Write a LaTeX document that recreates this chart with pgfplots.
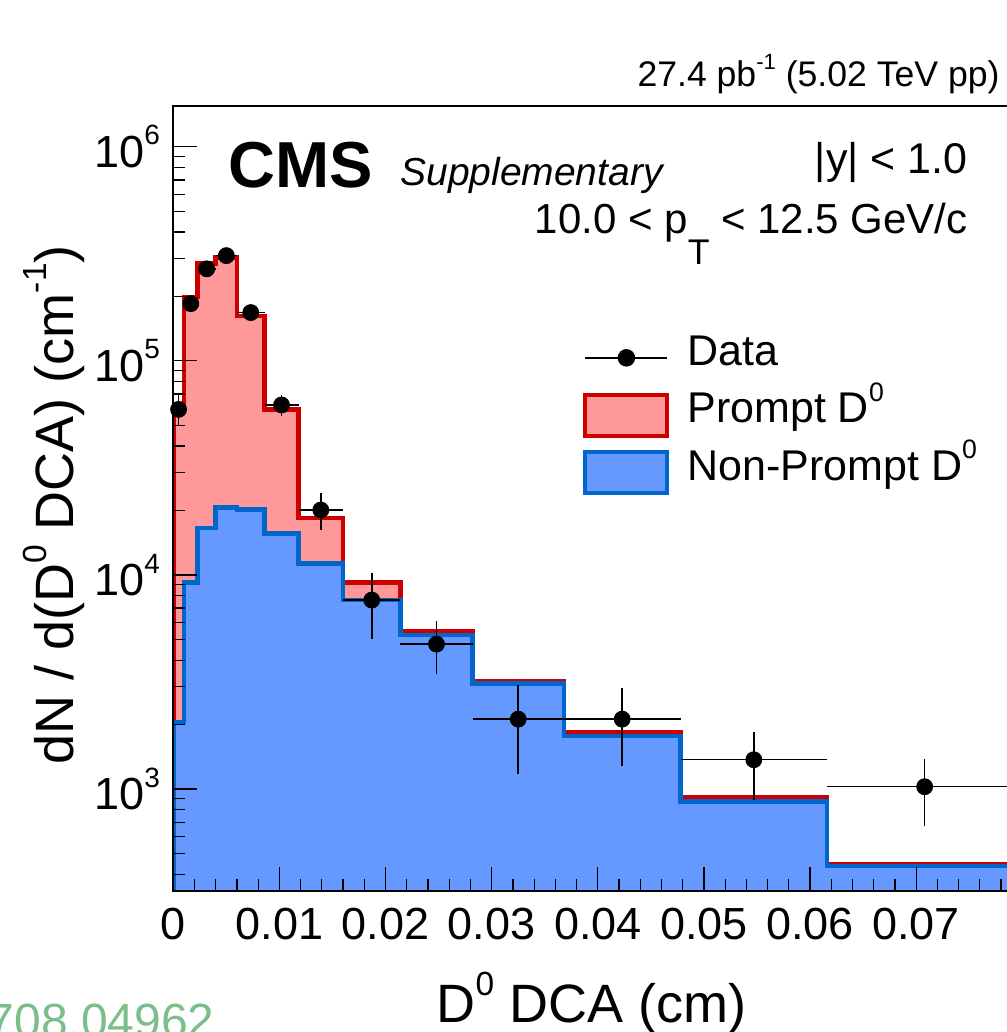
\documentclass[border=0pt]{standalone}
\usepackage{fontspec}
\setmainfont{Liberation Sans}
\usepackage{graphicx}
\usepackage{pgfplots}
\pgfplotsset{compat=1.18}

\definecolor{promptfill}{RGB}{255,153,153}
\definecolor{promptline}{RGB}{204,0,0}
\definecolor{npfill}{RGB}{102,153,255}
\definecolor{npline}{RGB}{0,102,204}
\definecolor{arxivgreen}{RGB}{122,190,140}

% ROOT-style raised / lowered indices
\newcommand\up[1]{\raisebox{0.5em}{\scalebox{0.62}{#1}}}
\newcommand\dn[1]{\raisebox{-0.75em}{\scalebox{0.85}{#1}}}

\pgfplotsset{
  datalegend/.style={legend image code/.code={%
    \draw[mark repeat=2,mark phase=2,##1] plot coordinates {(0pt,0pt)(20.5pt,0pt)(41pt,0pt)};}},
  boxlegend/.style={legend image code/.code={%
    \draw[##1] (0pt,-10.25pt) rectangle (41pt,10.25pt);}},
}

% Prompt + non-prompt (stacked total), bin low edges, last row closes the last bin
\pgfplotstableread{
x y
0 100
0 59000
0.001 199000
0.0023 285000
0.004 304000
0.006 162000
0.0086 59300
0.0118 18400
0.016 9200
0.0214 5430
0.0282 3200
0.0368 1850
0.0478 920
0.0616 447
0.08 447
0.08 100
}\prompttbl

% Non-prompt component
\pgfplotstableread{
x y
0 100
0 2060
0.001 9230
0.0023 16600
0.004 20700
0.006 20200
0.0086 15600
0.0118 11300
0.016 7620
0.0214 5250
0.0282 3110
0.0368 1770
0.0478 872
0.0616 437
0.08 437
0.08 100
}\nonprompttbl

% Data with bin half-widths and asymmetric vertical errors
\pgfplotstableread{
x y ex eyp eym
0.0005 59300 0.0005 10500 9300
0.00165 185000 0.00065 12000 12000
0.00315 269000 0.00085 15000 15000
0.005 310000 0.001 16000 16000
0.0073 168000 0.0013 11000 11000
0.0102 62200 0.0016 7000 7000
0.0139 20100 0.0021 4000 3900
0.0187 7630 0.0027 2600 2600
0.0248 4750 0.0034 1350 1320
0.0325 2120 0.0043 940 940
0.0423 2120 0.0055 830 840
0.0547 1370 0.0069 480 480
0.0708 1025 0.0092 355 353
}\datatbl

\begin{document}
\begin{tikzpicture}
\begin{axis}[
  at={(0,0)}, anchor=south west,
  scale only axis, width=424.5pt, height=392.5pt,
  xmin=0, xmax=0.08,
  ymode=log, ymin=335, ymax=1.555e6,
  axis on top, clip mode=individual,
  axis line style={line width=1pt},
  tick align=inside, tick pos=left,
  major tick length=12pt, minor tick length=6pt,
  every tick/.style={black, line width=0.6pt},
  scaled x ticks=false,
  xtick={0,0.01,0.02,0.03,0.04,0.05,0.06,0.07},
  xticklabels={0,0.01,0.02,0.03,0.04,0.05,0.06,0.07},
  minor xtick={0.002,0.004,0.006,0.008,0.012,0.014,0.016,0.018,
    0.022,0.024,0.026,0.028,0.032,0.034,0.036,0.038,
    0.042,0.044,0.046,0.048,0.052,0.054,0.056,0.058,
    0.062,0.064,0.066,0.068,0.072,0.074,0.076,0.078},
  ytick={1e3,1e4,1e5,1e6},
  yticklabels={10\up{3},10\up{4},10\up{5},10\up{6}},
  minor ytick={400,500,600,700,800,900,
    2000,3000,4000,5000,6000,7000,8000,9000,
    20000,30000,40000,50000,60000,70000,80000,90000,
    200000,300000,400000,500000,600000,700000,800000,900000},
  xticklabel style={font=\fontsize{22.5}{27}\selectfont, inner sep=0pt, anchor=base, yshift=-24.6pt},
  yticklabel style={font=\fontsize{22.5}{27}\selectfont, inner sep=0pt, anchor=east, xshift=-6.5pt},
  xlabel={D\up{0} DCA (cm)},
  xlabel style={font=\fontsize{27}{32}\selectfont, inner sep=0pt, at={(rel axis cs:0.4926,-0.1685)}, anchor=base},
  ylabel={dN / d(D\up{0} DCA) (cm\up{-1})},
  ylabel style={font=\fontsize{27}{32}\selectfont, inner sep=0pt, at={(rel axis cs:-0.1181,0.4913)}, anchor=base},
  legend style={at={(rel axis cs:0.4826,0.708)}, anchor=north west,
    draw=none, fill=none, inner sep=0pt, row sep=6.25pt, column sep=9pt,
    font=\fontsize{21.5}{26}\selectfont,
    nodes={inner sep=0pt, text height=15pt, text depth=7.5pt}},
  legend cell align=left,
]

\addlegendimage{datalegend, black, line width=0.75pt, mark=*, mark size=4pt}
\addlegendentry{Data}
\addlegendimage{boxlegend, fill=promptfill, draw=promptline, line width=2pt}
\addlegendentry{Prompt D\up{0}}
\addlegendimage{boxlegend, fill=npfill, draw=npline, line width=2pt}
\addlegendentry{Non-Prompt D\up{0}}

% stacked histograms
\addplot[const plot, fill=promptfill, draw=promptline, line width=2.25pt, line join=miter, forget plot]
  table[x=x, y=y] {\prompttbl};
\addplot[const plot, fill=npfill, draw=npline, line width=2.25pt, line join=miter, forget plot]
  table[x=x, y=y] {\nonprompttbl};

% data points
\addplot[only marks, mark=*, mark size=4pt, black, forget plot,
  error bars/.cd, x dir=both, x explicit, y dir=both, y explicit,
  error mark=none, error bar style={line width=0.75pt, black}]
  table[x=x, y=y, x error=ex, y error plus=eyp, y error minus=eym] {\datatbl};

% annotations
\node[anchor=base east, inner sep=0pt, font=\fontsize{17.8}{21}\selectfont]
  at (rel axis cs:0.9737,1.0238) {27.4 pb\up{-1} (5.02 TeV pp)};
\node[anchor=base west, inner sep=0pt, font=\bfseries\fontsize{32.5}{39}\selectfont]
  at (rel axis cs:0.0644,0.8964) {CMS};
\node[anchor=base west, inner sep=0pt, font=\itshape\fontsize{19.5}{23}\selectfont]
  at (rel axis cs:0.267,0.8977) {Supplementary};
\node[anchor=base east, inner sep=0pt, font=\fontsize{21.5}{26}\selectfont]
  at (rel axis cs:0.936,0.913) {|y| < 1.0};
\node[anchor=base east, inner sep=0pt, font=\fontsize{21}{25}\selectfont]
  at (rel axis cs:0.936,0.8375) {10.0 < p\dn{T} < 12.5 GeV/c};
\node[anchor=base east, inner sep=0pt, text=arxivgreen, font=\fontsize{24}{29}\selectfont]
  at (rel axis cs:0.0491,-0.1876) {1708.04962};
\end{axis}
\pgfresetboundingbox
\path[use as bounding box] (-86.65pt,-70.65pt) rectangle (416.35pt,445.35pt);
\end{tikzpicture}
\end{document}
